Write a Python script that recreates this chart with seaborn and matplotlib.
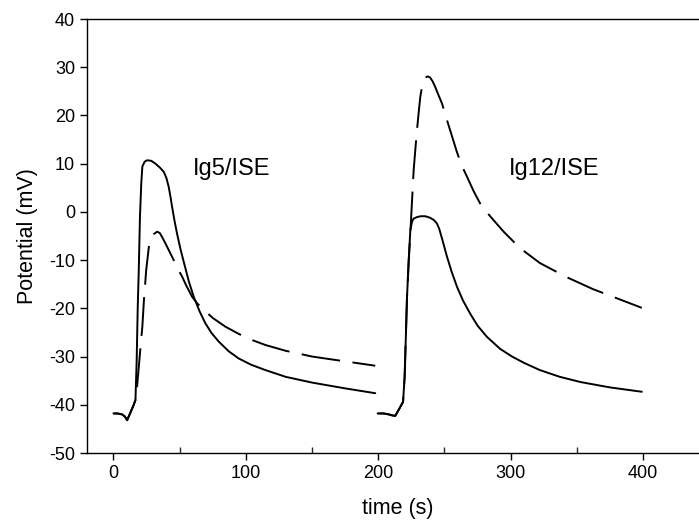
import numpy as np
import pandas as pd
import matplotlib
matplotlib.use("Agg")
import matplotlib.pyplot as plt
from matplotlib.ticker import MultipleLocator
import seaborn as sns

# ---- data ----
ig5_solid_t = [0, 3, 6.5, 8.5, 10.3, 12.5, 15.3, 16.6, 17.5, 18.3, 19.1, 20.0, 21.0, 21.8,
               23.5, 25.4, 28.5, 31.7, 35, 38, 40, 41.7, 43, 44.3, 46, 48, 50.5, 53, 57,
               60.6, 65, 69.4, 74, 79.5, 87, 94.6, 104, 114.7, 130, 150, 175, 197.7]
ig5_solid_v = [-41.8, -41.8, -42.0, -42.4, -43.2, -41.8, -40.0, -39.0, -31.0, -20.0, -12.0,
               -1.0, 6.0, 9.4, 10.4, 10.7, 10.6, 10.0, 9.2, 8.3, 7.0, 5.2, 3.2, 1.0, -1.7,
               -4.5, -7.6, -10.3, -14.5, -17.6, -20.6, -23.1, -25.1, -26.9, -28.9, -30.4,
               -31.7, -32.8, -34.2, -35.4, -36.6, -37.6]

ig5_dash_t = [0, 3, 6.5, 8.5, 10.3, 12.5, 15.3, 16.6, 17.8, 19, 20.2, 21.8, 23, 24.7, 26.7,
              28.5, 30.4, 33, 35, 36.7, 39, 41.7, 45.5, 48, 51.8, 55, 59.4, 63, 67, 75,
              84.5, 94.6, 104, 114.7, 130, 150, 175, 197.7]
ig5_dash_v = [-41.8, -41.8, -42.0, -42.4, -43.2, -41.8, -40.0, -39.0, -36.3, -32.5, -28.7,
              -23.8, -18.3, -12.1, -7.3, -5.6, -4.6, -4.1, -4.4, -5.2, -6.4, -7.9, -10.0,
              -11.5, -13.4, -15.3, -17.6, -18.9, -20.0, -22.0, -23.8, -25.3, -26.5, -27.6,
              -28.8, -30.0, -31.0, -31.9]

ig12_solid_t = [199.5, 204, 208, 210.5, 212.8, 215.5, 217.5, 218.7, 219.9, 220.8, 221.7,
                223, 224.2, 225.5, 226.7, 229, 232, 235.5, 239, 242, 244.3, 246, 248.1,
                250, 251.9, 255.5, 259.4, 264, 269.4, 275, 282, 292, 301, 310, 322, 337,
                353, 375, 399]
ig12_solid_v = [-41.8, -41.8, -42.0, -42.2, -42.3, -41.0, -40.0, -39.4, -34.2, -26.0, -17.6,
                -10.0, -3.8, -2.0, -1.4, -1.1, -0.9, -0.9, -1.2, -1.7, -2.4, -3.5, -5.5,
                -7.4, -9.3, -12.5, -15.5, -18.4, -21.1, -23.6, -25.9, -28.4, -30.0, -31.3,
                -32.8, -34.2, -35.3, -36.4, -37.3]

ig12_dash_t = [199.5, 204, 208, 210.5, 212.8, 215.5, 217.5, 218.7, 219.9, 220.8, 221.7,
               223, 224.2, 225.5, 226.7, 228, 229.2, 230.5, 231.7, 233, 234.5, 236,
               237.3, 239, 241, 243, 245.5, 248.1, 251, 254.3, 259.4, 263, 267, 272, 277,
               282, 287, 295, 307, 322, 342, 362, 381, 399]
ig12_dash_v = [-41.8, -41.8, -42.0, -42.2, -42.3, -41.0, -40.0, -39.4, -34.2, -26.0, -17.6,
               -10.0, -4.4, 2.4, 8.6, 13.0, 16.9, 20.6, 23.8, 25.9, 27.3, 27.9, 28.1, 27.9,
               27.1, 25.9, 24.2, 22.5, 19.8, 16.9, 12.4, 9.6, 7.3, 4.3, 1.7, -0.1, -1.7,
               -4.2, -7.5, -10.6, -13.5, -16.0, -18.0, -19.9]

labels = ["Ig5/ISE", "Ig12/ISE"]
label_x = [89, 333]
label_y = [7.6, 7.6]

x_ticks = [0, 100, 200, 300, 400]
y_ticks = [-50, -40, -30, -20, -10, 0, 10, 20, 30, 40]

# ---- style ----
sns.set_theme(style="ticks")
plt.rcParams["font.family"] = ["Liberation Sans", "DejaVu Sans"]
plt.rcParams["lines.scale_dashes"] = False
plt.rcParams["axes.unicode_minus"] = False

fig = plt.figure(figsize=(6.99, 5.29), dpi=100)
ax = fig.add_axes([87 / 699, (529 - 453) / 529, (709.3 - 87) / 699, 434 / 529])

line_kw = dict(color="black", linewidth=1.4, estimator=None, sort=False, legend=False, ax=ax)
sns.lineplot(x=ig5_solid_t, y=ig5_solid_v, **line_kw)
sns.lineplot(x=ig12_solid_t, y=ig12_solid_v, **line_kw)
sns.lineplot(x=ig5_dash_t, y=ig5_dash_v, linestyle=(0, (28, 9)), **line_kw)
sns.lineplot(x=ig12_dash_t, y=ig12_dash_v, linestyle=(0, (28, 9)), **line_kw)

for lab, lx, ly in zip(labels, label_x, label_y):
    ax.text(lx, ly, lab, fontsize=17, ha="center", va="baseline", color="black")

ax.set_xlim(-20, 450)
ax.set_ylim(-50, 40)
ax.set_xticks(x_ticks)
ax.set_yticks(y_ticks)
ax.xaxis.set_minor_locator(MultipleLocator(50))
ax.tick_params(axis="both", which="major", direction="out", length=5, width=1,
               labelsize=13, colors="black")
ax.tick_params(axis="x", which="minor", direction="in", length=4, width=1, bottom=True)
ax.set_xlabel("time (s)", fontsize=15.5, color="black", labelpad=12)
ax.set_ylabel("Potential (mV)", fontsize=15.5, color="black", labelpad=8)

for side in ["left", "bottom", "top"]:
    ax.spines[side].set_visible(True)
    ax.spines[side].set_color("black")
    ax.spines[side].set_linewidth(1.0)
ax.spines["right"].set_visible(False)

fig.savefig("out.png", dpi=100)
